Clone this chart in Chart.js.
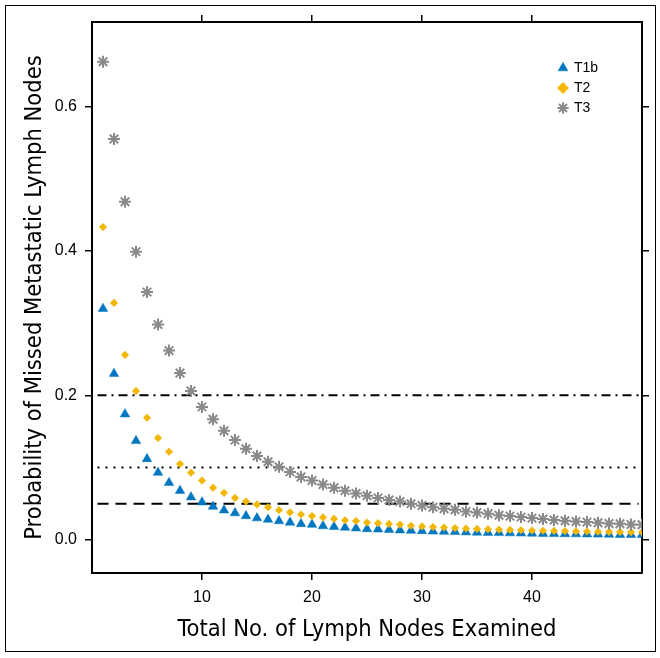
<!DOCTYPE html>
<html>
<head>
<meta charset="utf-8">
<title>Missed Metastatic Lymph Nodes</title>
<script src="https://cdn.jsdelivr.net/npm/chart.js"></script>
<style>
  body { margin: 0; background: #fff; }
  #frame { position: absolute; left: 5px; top: 5px; width: 649px; height: 645px; border: 1px solid #000; }
  #chart { position: absolute; left: 0; top: 0; }
</style>
</head>
<body>
<div id="frame"></div>
<canvas id="chart" width="660" height="658"></canvas>
<script>
// data
var nodes = [1, 2, 3, 4, 5, 6, 7, 8, 9, 10, 11, 12, 13, 14, 15, 16, 17, 18, 19, 20,
             21, 22, 23, 24, 25, 26, 27, 28, 29, 30, 31, 32, 33, 34, 35, 36, 37, 38, 39, 40,
             41, 42, 43, 44, 45, 46, 47, 48, 49, 50];
var t1b = [0.320, 0.230, 0.174, 0.137, 0.112, 0.093, 0.079, 0.068, 0.059, 0.052,
           0.046, 0.041, 0.037, 0.033, 0.030, 0.028, 0.026, 0.024, 0.022, 0.021,
           0.019, 0.018, 0.017, 0.016, 0.015, 0.0145, 0.014, 0.0133, 0.0128, 0.0123,
           0.0118, 0.0114, 0.011, 0.0106, 0.0102, 0.0099, 0.0096, 0.0093, 0.009, 0.0088,
           0.0085, 0.0083, 0.0081, 0.0079, 0.0077, 0.0075, 0.0073, 0.0071, 0.007, 0.0068];
var t2 = [0.433, 0.328, 0.256, 0.206, 0.169, 0.141, 0.122, 0.105, 0.093, 0.082,
          0.072, 0.065, 0.058, 0.053, 0.049, 0.045, 0.041, 0.038, 0.035, 0.033,
          0.031, 0.029, 0.027, 0.026, 0.024, 0.023, 0.022, 0.021, 0.0195, 0.0185,
          0.0177, 0.017, 0.0163, 0.0157, 0.0151, 0.0146, 0.0141, 0.0137, 0.0133, 0.0129,
          0.0126, 0.0123, 0.012, 0.0117, 0.0114, 0.0112, 0.011, 0.0108, 0.0106, 0.0104];
var t3 = [0.662, 0.555, 0.468, 0.399, 0.343, 0.298, 0.262, 0.231, 0.206, 0.184,
          0.167, 0.151, 0.138, 0.126, 0.116, 0.108, 0.101, 0.094, 0.087, 0.082,
          0.0765, 0.072, 0.068, 0.064, 0.061, 0.058, 0.055, 0.053, 0.050, 0.0475,
          0.045, 0.043, 0.0415, 0.039, 0.0378, 0.036, 0.034, 0.0328, 0.0314, 0.030,
          0.0287, 0.0273, 0.0263, 0.0254, 0.0245, 0.0235, 0.0226, 0.0222, 0.0212, 0.0208];
var refValues = [0.2, 0.1, 0.05];
var refSpan = [0.5, 49.7];
var xTicks = [10, 20, 30, 40];
var yTicks = [0.0, 0.2, 0.4, 0.6];

var blue = '#0077c0';
var yellow = '#f2b705';
var grey = '#8a8a8a';
var refDash = [[9, 5, 2, 5], [2, 6], [11, 7]];
var titleFont = "'Liberation Sans Narrow', 'DejaVu Sans Condensed', 'Arial Narrow', sans-serif";
var tickFont = "'Liberation Sans', Arial, sans-serif";

Chart.defaults.color = '#000';
Chart.defaults.font.family = tickFont;

function pts(vals) {
    return vals.map(function (v, i) { return { x: nodes[i], y: v }; });
}

var grid = { drawOnChartArea: false, drawTicks: true, tickLength: 7, color: '#000', lineWidth: 1.5 };
var border = { display: true, color: '#000', width: 2 };

var datasets = [
    { label: 'T1b', data: pts(t1b), pointStyle: 'triangle', pointRadius: 5.5,
      backgroundColor: blue, borderColor: blue, borderWidth: 0.5, order: 3 },
    { label: 'T2', data: pts(t2), pointStyle: 'rectRot', pointRadius: 3.8,
      backgroundColor: yellow, borderColor: yellow, borderWidth: 0.5, order: 2 },
    { label: 'T3', data: pts(t3), pointStyle: 'star', pointRadius: 6,
      backgroundColor: grey, borderColor: grey, borderWidth: 2, order: 1 }
];
refValues.forEach(function (v, k) {
    datasets.push({
        type: 'line', label: '', data: [{ x: refSpan[0], y: v }, { x: refSpan[1], y: v }],
        borderColor: '#000', borderWidth: 2, borderDash: refDash[k], pointRadius: 0, order: 4
    });
});

// put the legend in the upper right corner of the plot
var legendSpot = {
    id: 'legendSpot',
    afterLayout: function (chart) {
        chart.legend.left = 553;
        chart.legend.top = 55;
    }
};

new Chart(document.getElementById('chart'), {
    type: 'scatter',
    data: { datasets: datasets },
    plugins: [legendSpot],
    options: {
        responsive: false,
        animation: false,
        events: [],
        layout: { padding: 0 },
        plugins: {
            tooltip: { enabled: false },
            legend: {
                position: 'chartArea',
                align: 'start',
                labels: {
                    usePointStyle: true, boxWidth: 8, boxHeight: 8, padding: 6,
                    font: { size: 14 }, color: '#000',
                    filter: function (item) { return item.text !== ''; },
                    sort: function (a, b) { return a.datasetIndex - b.datasetIndex; }
                }
            }
        },
        scales: {
            x: {
                type: 'linear', position: 'bottom', min: 0, max: 50,
                afterBuildTicks: function (s) { s.ticks = xTicks.map(function (v) { return { value: v }; }); },
                afterFit: function (s) { s.height = 85; },
                grid: grid, border: border,
                ticks: { font: { size: 16 }, color: '#000', padding: 8, maxRotation: 0 },
                title: { display: true, text: 'Total No. of Lymph Nodes Examined', color: '#000',
                         font: { family: titleFont, size: 23.5 }, padding: { top: 0, bottom: 14 } }
            },
            x2: {
                type: 'linear', position: 'top', min: 0, max: 50,
                afterBuildTicks: function (s) { s.ticks = xTicks.map(function (v) { return { value: v }; }); },
                afterFit: function (s) { s.height = 22; },
                grid: grid, border: border,
                ticks: { display: false }
            },
            y: {
                type: 'linear', position: 'left', min: -0.046, max: 0.717,
                afterBuildTicks: function (s) { s.ticks = yTicks.map(function (v) { return { value: v }; }); },
                afterFit: function (s) { s.width = 92; },
                grid: grid, border: border,
                ticks: { font: { size: 16 }, color: '#000', padding: 8,
                         callback: function (v) { return Number(v).toFixed(1); } },
                title: { display: true, text: 'Probability of Missed Metastatic Lymph Nodes', color: '#000',
                         font: { family: titleFont, size: 23.5 }, padding: { top: 21, bottom: 0 } }
            },
            y2: {
                type: 'linear', position: 'right', min: -0.046, max: 0.717,
                afterBuildTicks: function (s) { s.ticks = yTicks.map(function (v) { return { value: v }; }); },
                afterFit: function (s) { s.width = 18; },
                grid: grid, border: border,
                ticks: { display: false }
            }
        }
    }
});
</script>
</body>
</html>
